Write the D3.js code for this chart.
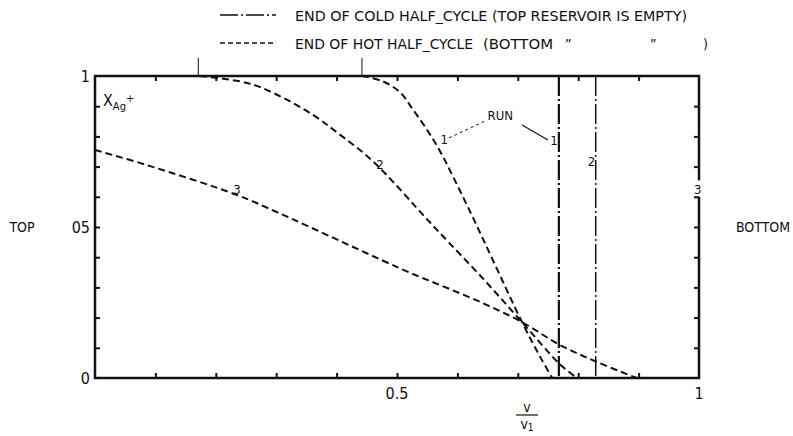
<!DOCTYPE html>
<html>
<head>
<meta charset="utf-8">
<script src="https://cdn.jsdelivr.net/npm/d3@7"></script>
<style>
  body { margin: 0; background: #fff; }
  text { font-family: "DejaVu Sans Condensed", "Liberation Sans Narrow", "DejaVu Sans", sans-serif; fill: #111; }
</style>
</head>
<body>
<script>
'use strict';
// profiles: v/v1 against X_Ag+
const run1V = [0.442, 0.477, 0.505, 0.526, 0.550, 0.571, 0.593, 0.626, 0.660, 0.707, 0.737, 0.757]
const run1X = [1.000, 0.982, 0.946, 0.890, 0.821, 0.752, 0.666, 0.530, 0.385, 0.185, 0.070, 0.000]

const run2V = [0.174, 0.252, 0.295, 0.361, 0.406, 0.460, 0.550, 0.571, 0.642, 0.707, 0.770, 0.798]
const run2X = [1.000, 0.977, 0.944, 0.871, 0.805, 0.718, 0.525, 0.480, 0.330, 0.185, 0.045, 0.000]

const run3V = [0.000, 0.086, 0.235, 0.306, 0.522, 0.571, 0.642, 0.707, 0.770, 0.831, 0.897]
const run3X = [0.755, 0.705, 0.606, 0.545, 0.348, 0.308, 0.248, 0.185, 0.109, 0.053, 0.000]

// end of cold half-cycle (vertical lines)
const coldV = [0.768, 0.829]
// where the hot profiles leave X = 1
const startMarks = [0.171, 0.442]

const tickVals = [0.1, 0.2, 0.3, 0.4, 0.5, 0.6, 0.7, 0.8, 0.9]
const xTickLabels = ["0.5", "1"]
const xTickPos = [0.5, 1]
const yTickLabels = ["0", "05", "1"]
const yTickPos = [0, 0.5, 1]

const legendLabels = ["END OF COLD HALF_CYCLE (TOP RESERVOIR IS EMPTY)", "END OF HOT HALF_CYCLE"]

const W = 793, H = 436
const plot = { left: 95, right: 699, top: 76, bottom: 378 }

const svg = d3.select("body").append("svg")
    .attr("width", W)
    .attr("height", H)

const x = d3.scaleLinear().domain([0, 1]).range([plot.left, plot.right])
const y = d3.scaleLinear().domain([0, 1]).range([plot.bottom, plot.top])

const line = d3.line()
    .x(d => x(d[0]))
    .y(d => y(d[1]))
    .curve(d3.curveCatmullRom.alpha(0.5))

// axes with inward ticks
function styleAxis(g) {
    g.select(".domain").remove()
    g.selectAll(".tick line").attr("stroke", "#111").attr("stroke-width", 2)
    g.selectAll(".tick text").remove()
}
svg.append("g").attr("transform", "translate(0," + plot.bottom + ")")
    .call(d3.axisBottom(x).tickValues(tickVals).tickSize(-5)).call(styleAxis)
svg.append("g").attr("transform", "translate(0," + plot.top + ")")
    .call(d3.axisTop(x).tickValues(tickVals).tickSize(-5)).call(styleAxis)
svg.append("g").attr("transform", "translate(" + plot.left + ",0)")
    .call(d3.axisLeft(y).tickValues(tickVals).tickSize(-5)).call(styleAxis)
svg.append("g").attr("transform", "translate(" + plot.right + ",0)")
    .call(d3.axisRight(y).tickValues(tickVals).tickSize(-5)).call(styleAxis)

// frame (right side broken by the "3" label)
const frame = svg.append("g").attr("stroke", "#111").attr("stroke-width", 2.5).attr("fill", "none")
frame.append("path").attr("d", "M" + x(1) + "," + y(0.6) + "V" + y(0) + "H" + x(0) + "V" + y(1) + "H" + x(1) + "V" + y(0.655))

// start markers above the top axis
svg.selectAll(".startmark")
    .data(startMarks)
    .enter()
    .append("line")
    .attr("x1", d => x(d)).attr("x2", d => x(d))
    .attr("y1", y(1)).attr("y2", y(1.06))
    .attr("stroke", "#111").attr("stroke-width", 1)

// hot half-cycle profiles
const profiles = [d3.zip(run1V, run1X), d3.zip(run2V, run2X), d3.zip(run3V, run3X)]
svg.selectAll(".profile")
    .data(profiles)
    .enter()
    .append("path")
    .attr("d", line)
    .attr("fill", "none")
    .attr("stroke", "#111")
    .attr("stroke-width", 2)
    .attr("stroke-dasharray", "7,4")

// cold half-cycle fronts
svg.selectAll(".cold")
    .data(coldV)
    .enter()
    .append("line")
    .attr("x1", d => x(d)).attr("x2", d => x(d))
    .attr("y1", y(1)).attr("y2", y(0))
    .attr("stroke", "#111")
    .attr("stroke-width", (d, i) => i === 0 ? 2.2 : 1.5)
    .attr("stroke-dasharray", "20,3,2,3")

// annotations
const notes = [
    { t: "RUN", v: 0.671, X: 0.855 },
    { t: "1", v: 0.578, X: 0.775 },
    { t: "1", v: 0.760, X: 0.772 },
    { t: "2", v: 0.822, X: 0.702 },
    { t: "2", v: 0.472, X: 0.693 },
    { t: "3", v: 0.235, X: 0.610 },
    { t: "3", v: 0.998, X: 0.608 }
]
svg.selectAll(".note")
    .data(notes)
    .enter()
    .append("text")
    .attr("x", d => x(d.v))
    .attr("y", d => y(d.X))
    .attr("text-anchor", "middle")
    .attr("font-size", 13)
    .text(d => d.t)

svg.append("line")
    .attr("x1", x(0.586)).attr("y1", y(0.795))
    .attr("x2", x(0.649)).attr("y2", y(0.854))
    .attr("stroke", "#111").attr("stroke-width", 1).attr("stroke-dasharray", "3,3")
svg.append("line")
    .attr("x1", x(0.707)).attr("y1", y(0.838))
    .attr("x2", x(0.750)).attr("y2", y(0.788))
    .attr("stroke", "#111").attr("stroke-width", 1.2)

// tick labels
svg.selectAll(".xlab")
    .data(xTickLabels)
    .enter()
    .append("text")
    .attr("x", (d, i) => x(xTickPos[i]))
    .attr("y", plot.bottom + 21)
    .attr("text-anchor", "middle")
    .attr("font-size", 16)
    .text(d => d)
svg.selectAll(".ylab")
    .data(yTickLabels)
    .enter()
    .append("text")
    .attr("x", plot.left - 5)
    .attr("y", (d, i) => y(yTickPos[i]) + 6)
    .attr("text-anchor", "end")
    .attr("font-size", 16)
    .text(d => d)

// axis titles
const yTitle = svg.append("text").attr("x", 103).attr("y", 106).attr("font-size", 16)
yTitle.append("tspan").text("X")
yTitle.append("tspan").attr("font-size", 11).attr("dy", 4).text("Ag")
yTitle.append("tspan").attr("font-size", 11).attr("dy", -8).text("+")

svg.append("text").attr("x", 22).attr("y", 232).attr("text-anchor", "middle").attr("font-size", 14).text("TOP")
svg.append("text").attr("x", 763).attr("y", 232).attr("text-anchor", "middle").attr("font-size", 14).text("BOTTOM")

const fx = 527
svg.append("text").attr("x", fx).attr("y", 412).attr("text-anchor", "middle").attr("font-size", 14).text("v")
svg.append("line").attr("x1", fx - 11).attr("x2", fx + 11).attr("y1", 415).attr("y2", 415)
    .attr("stroke", "#111").attr("stroke-width", 1.2)
const den = svg.append("text").attr("x", fx).attr("y", 429).attr("text-anchor", "middle").attr("font-size", 14)
den.append("tspan").text("v")
den.append("tspan").attr("font-size", 10).attr("dy", 2).text("1")

// legend
const legend = svg.append("g")
legend.append("line").attr("x1", 220).attr("x2", 276).attr("y1", 15).attr("y2", 15)
    .attr("stroke", "#111").attr("stroke-width", 1.5).attr("stroke-dasharray", "18,3,2,3")
legend.append("line").attr("x1", 220).attr("x2", 276).attr("y1", 43).attr("y2", 43)
    .attr("stroke", "#111").attr("stroke-width", 1.5).attr("stroke-dasharray", "5,3")
legend.append("text").attr("x", 295).attr("y", 21).attr("font-size", 14)
    .attr("textLength", 392).attr("lengthAdjust", "spacingAndGlyphs").text(legendLabels[0])
legend.append("text").attr("x", 295).attr("y", 49).attr("font-size", 14)
    .attr("textLength", 178).attr("lengthAdjust", "spacingAndGlyphs").text(legendLabels[1])
legend.append("text").attr("x", 483).attr("y", 49).attr("font-size", 14)
    .attr("textLength", 70).attr("lengthAdjust", "spacingAndGlyphs").text("(BOTTOM")
legend.append("text").attr("x", 565).attr("y", 49).attr("font-size", 14).text("\u201D")
legend.append("text").attr("x", 650).attr("y", 49).attr("font-size", 14).text("\u201D")
legend.append("text").attr("x", 703).attr("y", 49).attr("font-size", 14).text(")")
</script>
</body>
</html>
